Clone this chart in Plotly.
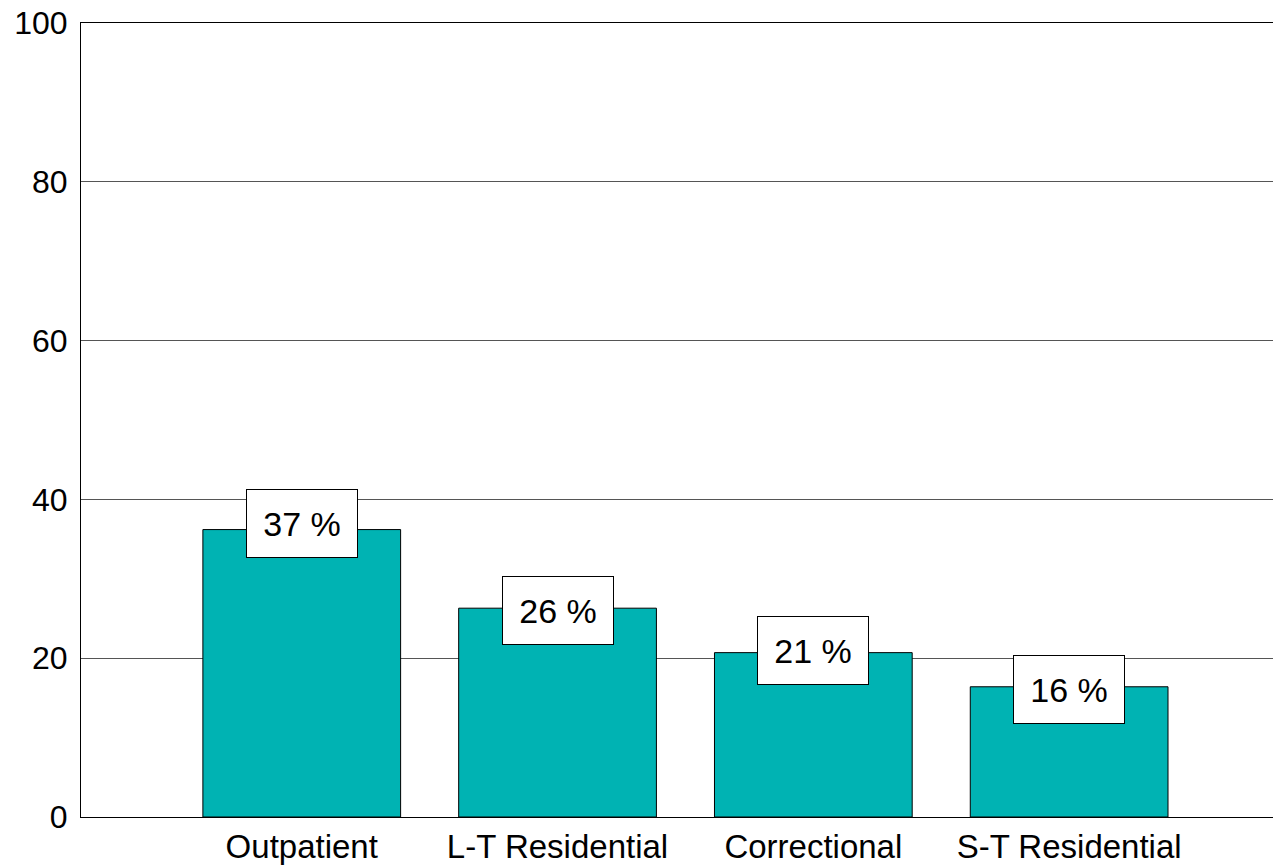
import plotly.graph_objects as go

categories = ["Outpatient", "L-T Residential", "Correctional", "S-T Residential"]
values = [36.2, 26.3, 20.7, 16.4]
labels = [37, 26, 21, 16]
y_ticks = [0, 20, 40, 60, 80, 100]

fig = go.Figure()
fig.add_trace(go.Bar(
    x=categories, y=values, width=0.773,
    marker=dict(color="#00B3B3", line=dict(color="black", width=1)),
    hoverinfo="skip",
))

for c, lab in zip(categories, labels):
    fig.add_annotation(
        x=c, y=lab, text=f"{lab} %", showarrow=False,
        font=dict(family="Liberation Sans, Arial", size=34, color="black"),
        bgcolor="white", bordercolor="black", borderwidth=1, borderpad=0,
        width=110, height=67, xref="x", yref="y",
    )

fig.update_layout(
    width=1273, height=868,
    margin=dict(l=81, r=0, t=23, b=51),
    paper_bgcolor="white", plot_bgcolor="white",
    showlegend=False,
    font=dict(family="Liberation Sans, Arial", color="black"),
    bargap=0,
)
fig.update_xaxes(
    type="category", range=[-0.863, 3.797],
    showline=True, linecolor="black", linewidth=1, mirror=True,
    showgrid=False, ticks="", tickfont=dict(size=33),
)
fig.update_yaxes(
    range=[0, 100], tickvals=y_ticks,
    showline=True, linecolor="black", linewidth=1,
    showgrid=True, gridcolor="#555555", gridwidth=1,
    zeroline=False, ticks="", tickfont=dict(size=32),
    ticklabelstandoff=6,
)
fig.write_html(
    "out.html",
    config={"displayModeBar": False, "staticPlot": True},
    post_script="document.body.style.margin='0';document.body.style.overflow='hidden';",
)
